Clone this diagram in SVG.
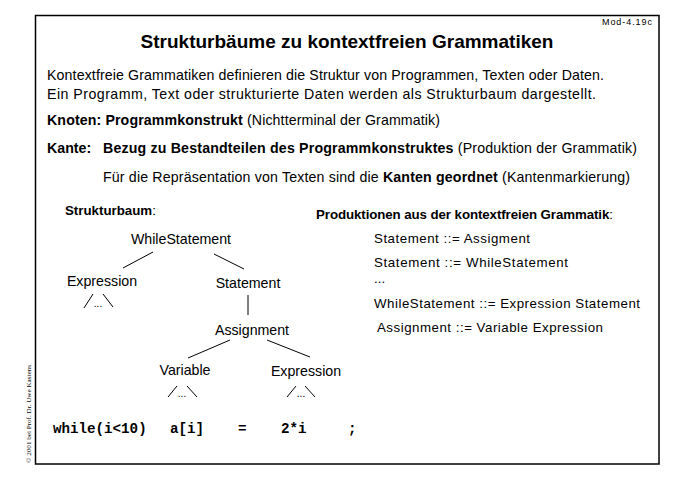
<svg xmlns="http://www.w3.org/2000/svg" width="678" height="480" viewBox="0 0 678 480">
<style>
text{font-family:"Liberation Sans",Arial,Helvetica,sans-serif;fill:#000}
.b{font-weight:bold}
.t{font-size:14.2px}
.p{font-size:13.3px}
.m{font-family:"Liberation Mono","Courier New",monospace;font-weight:bold;font-size:14.2px}
.e{stroke:#000;stroke-width:1;fill:none}
</style>
<rect x="0" y="0" width="678" height="480" fill="#fff"/>
<rect x="35.5" y="15.5" width="623.5" height="448.5" fill="none" stroke="#000" stroke-width="1.5"/>
<text x="652" y="25" font-size="9" text-anchor="end" textLength="50" lengthAdjust="spacing">Mod-4.19c</text>
<text x="31" y="463" transform="rotate(-90 31 463)" font-size="7" textLength="98" lengthAdjust="spacingAndGlyphs" style="font-family:'Liberation Serif',serif">© 2001 bei Prof. Dr. Uwe Kastens</text>
<text x="347" y="48" font-size="19" class="b" text-anchor="middle">Strukturbäume zu kontextfreien Grammatiken</text>
<text x="47" y="80" class="t" textLength="557" lengthAdjust="spacing">Kontextfreie Grammatiken definieren die Struktur von Programmen, Texten oder Daten.</text>
<text x="47" y="99" class="t" textLength="549" lengthAdjust="spacing">Ein Programm, Text oder strukturierte Daten werden als Strukturbaum dargestellt.</text>
<text x="47" y="125" class="t" textLength="393" lengthAdjust="spacing"><tspan class="b">Knoten: Programmkonstrukt</tspan> (Nichtterminal der Grammatik)</text>
<text x="47" y="153" class="t b">Kante:</text>
<text x="103" y="153" class="t" textLength="534" lengthAdjust="spacing"><tspan class="b">Bezug zu Bestandteilen des Programmkonstruktes</tspan> (Produktion der Grammatik)</text>
<text x="103" y="182" class="t" textLength="527" lengthAdjust="spacing">Für die Repräsentation von Texten sind die <tspan class="b">Kanten geordnet</tspan> (Kantenmarkierung)</text>
<text x="65" y="215" class="p"><tspan class="b">Strukturbaum</tspan>:</text>
<text x="316" y="219" class="p" textLength="297" lengthAdjust="spacing"><tspan class="b">Produktionen aus der kontextfreien Grammatik</tspan>:</text>
<g id="productions">
<text x="374" y="243" class="p" textLength="156" lengthAdjust="spacing">Statement ::= Assigment</text>
<text x="374" y="267" class="p" textLength="194" lengthAdjust="spacing">Statement ::= WhileStatement</text>
<text x="374" y="283" class="p">...</text>
<text x="374" y="308" class="p" textLength="266" lengthAdjust="spacing">WhileStatement ::= Expression Statement</text>
<text x="377" y="332" class="p" textLength="226" lengthAdjust="spacing">Assignment ::= Variable Expression</text>
</g>
<g id="connectors">
<line class="e" x1="153" y1="252" x2="123" y2="268"/>
<line class="e" x1="214" y1="254" x2="244" y2="269"/>
<line class="e" x1="84" y1="308" x2="93" y2="294"/>
<line class="e" x1="103" y1="294" x2="113" y2="307"/>
<line class="e" x1="248" y1="295" x2="248" y2="315"/>
<line class="e" x1="230" y1="340" x2="188" y2="358"/>
<line class="e" x1="267" y1="340" x2="310" y2="357"/>
<line class="e" x1="168" y1="397" x2="177" y2="386"/>
<line class="e" x1="187" y1="386" x2="197" y2="397"/>
<line class="e" x1="287" y1="397" x2="296" y2="386"/>
<line class="e" x1="305" y1="386" x2="315" y2="397"/>
</g>
<g id="n-while"><text x="181" y="244" class="t" text-anchor="middle">WhileStatement</text></g>
<g id="n-expr1"><text x="102" y="286" class="t" text-anchor="middle">Expression</text></g>
<g id="n-expr1-dots"><text x="98" y="307" font-size="10" text-anchor="middle">...</text></g>
<g id="n-stmt"><text x="248" y="288" class="t" text-anchor="middle">Statement</text></g>
<g id="n-assign"><text x="252" y="335" class="t" text-anchor="middle">Assignment</text></g>
<g id="n-var"><text x="185" y="375" class="t" text-anchor="middle">Variable</text></g>
<g id="n-var-dots"><text x="182" y="397" font-size="10" text-anchor="middle">...</text></g>
<g id="n-expr2"><text x="306" y="376" class="t" text-anchor="middle">Expression</text></g>
<g id="n-expr2-dots"><text x="301" y="397" font-size="10" text-anchor="middle">...</text></g>
<g id="code">
<text x="53" y="433" class="m">while(i&lt;10)</text>
<text x="170" y="433" class="m">a[i]</text>
<text x="238" y="433" class="m">=</text>
<text x="281" y="433" class="m">2*i</text>
<text x="348" y="433" class="m">;</text>
</g>
</svg>
